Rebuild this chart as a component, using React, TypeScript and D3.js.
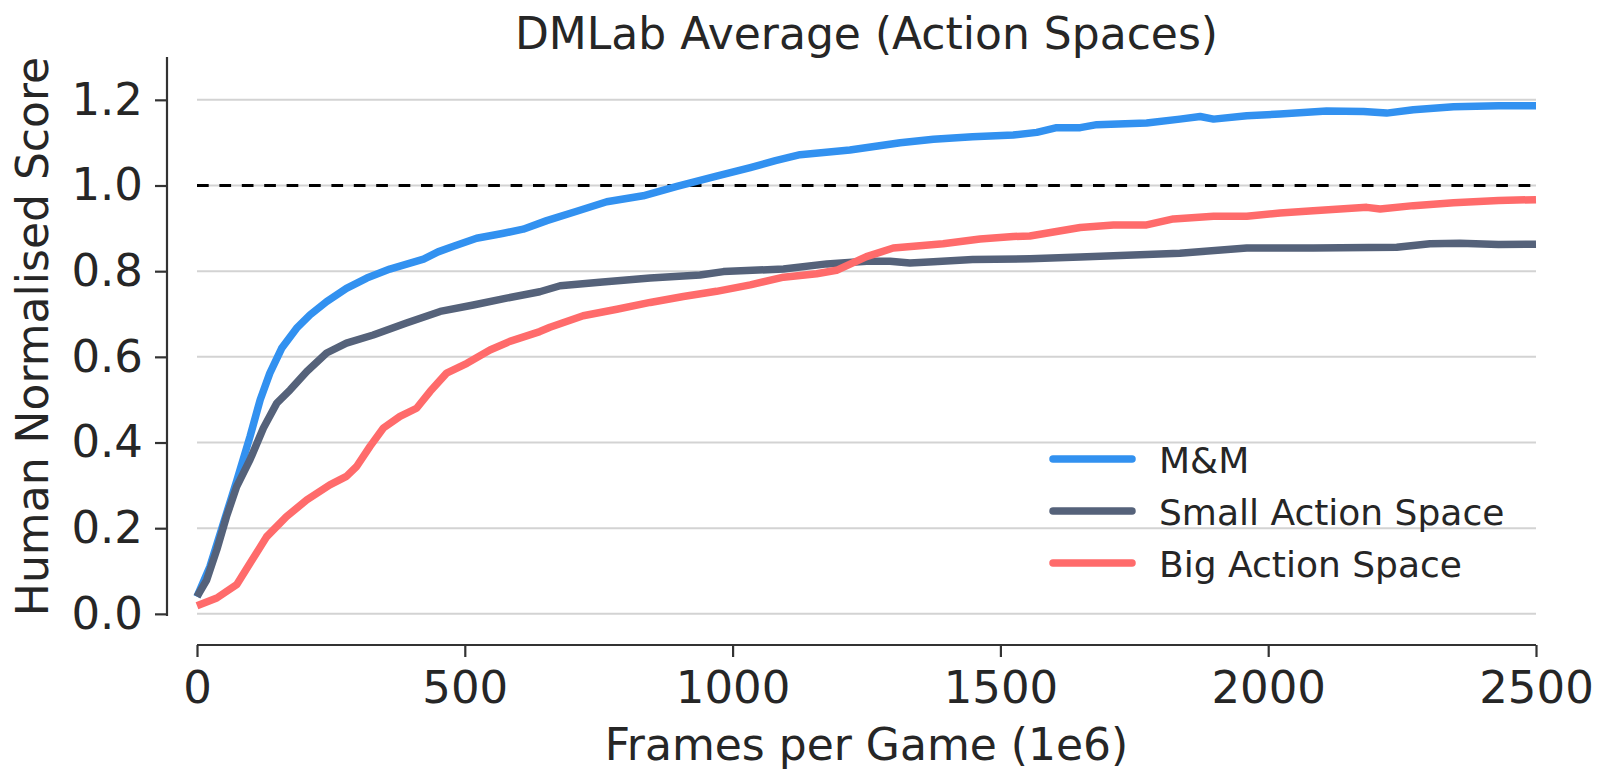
import React, { useEffect, useRef } from 'react';
import * as d3 from 'd3';

// values (frames in 1e6, human normalised score)
const mmFrames = [0, 24, 49, 74, 99, 118, 136, 158, 186, 211, 242, 279, 317, 360, 423, 450, 479, 522, 570, 609, 653, 709, 765, 833, 896, 970, 1033, 1080, 1126, 1219, 1313, 1375, 1448, 1524, 1568, 1605, 1649, 1680, 1773, 1835, 1873, 1898, 1960, 2022, 2109, 2178, 2221, 2271, 2346, 2430, 2500];
const mmScores = [0.04, 0.11, 0.21, 0.31, 0.414, 0.5, 0.562, 0.62, 0.667, 0.698, 0.729, 0.76, 0.784, 0.805, 0.828, 0.845, 0.858, 0.877, 0.888, 0.898, 0.918, 0.94, 0.962, 0.976, 0.998, 1.022, 1.042, 1.058, 1.072, 1.083, 1.1, 1.108, 1.114, 1.118, 1.124, 1.135, 1.135, 1.142, 1.146, 1.155, 1.161, 1.155, 1.163, 1.167, 1.174, 1.173, 1.169, 1.177, 1.184, 1.186, 1.186];

const smallFrames = [0, 18, 37, 55, 74, 99, 124, 149, 174, 205, 242, 279, 329, 391, 454, 516, 578, 640, 678, 752, 846, 939, 983, 1095, 1176, 1250, 1294, 1331, 1375, 1448, 1555, 1649, 1711, 1835, 1960, 2084, 2240, 2302, 2358, 2430, 2500];
const smallScores = [0.04, 0.079, 0.15, 0.227, 0.297, 0.36, 0.434, 0.492, 0.523, 0.566, 0.609, 0.632, 0.651, 0.679, 0.706, 0.721, 0.737, 0.752, 0.766, 0.774, 0.784, 0.791, 0.799, 0.805, 0.817, 0.823, 0.823, 0.819, 0.822, 0.827, 0.829, 0.833, 0.836, 0.842, 0.854, 0.854, 0.856, 0.864, 0.865, 0.862, 0.863];

const bigFrames = [0, 37, 74, 99, 130, 167, 205, 248, 279, 298, 323, 348, 379, 410, 435, 466, 504, 547, 584, 640, 659, 721, 784, 846, 908, 970, 1033, 1095, 1157, 1194, 1250, 1300, 1344, 1393, 1462, 1524, 1555, 1649, 1711, 1773, 1823, 1898, 1960, 2022, 2084, 2184, 2209, 2271, 2346, 2430, 2500];
const bigScores = [0.019, 0.037, 0.068, 0.118, 0.18, 0.227, 0.266, 0.301, 0.321, 0.344, 0.391, 0.434, 0.461, 0.48, 0.519, 0.562, 0.585, 0.616, 0.636, 0.659, 0.669, 0.696, 0.711, 0.727, 0.741, 0.753, 0.768, 0.786, 0.794, 0.802, 0.834, 0.854, 0.859, 0.864, 0.875, 0.881, 0.882, 0.902, 0.908, 0.908, 0.922, 0.928, 0.928, 0.936, 0.941, 0.949, 0.945, 0.953, 0.96, 0.965, 0.967];

const seriesNames = ['M&M', 'Small Action Space', 'Big Action Space'];
const seriesColors = ['#3291f0', '#55627a', '#ff6b6b'];
const xTicks = [0, 500, 1000, 1500, 2000, 2500];
const yTicks = [0.0, 0.2, 0.4, 0.6, 0.8, 1.0, 1.2];
const humanLevel = 1.0;

const W = 1611;
const H = 783;
const FONT = 'DejaVu Sans, sans-serif';
const TEXT = '#262626';
const AXIS = '#333333';

export default function App() {
  const ref = useRef<SVGSVGElement>(null);

  useEffect(() => {
    if (!ref.current) return;
    const svg = d3.select(ref.current);
    svg.selectAll('*').remove();

    const left = 197, right = 1536, top = 57, bottom = 616;
    const x = d3.scaleLinear().domain([0, 2500]).range([left, right]);
    const y = d3.scaleLinear().domain([-0.005, 1.3]).range([bottom, top]);

    // grid
    svg.append('g')
      .selectAll('line')
      .data(yTicks)
      .enter().append('line')
      .attr('x1', left).attr('x2', right)
      .attr('y1', d => y(d)).attr('y2', d => y(d))
      .attr('stroke', '#d3d3d3')
      .attr('stroke-width', 2);

    // human level
    svg.append('line')
      .attr('x1', x(0)).attr('x2', x(2500))
      .attr('y1', y(humanLevel)).attr('y2', y(humanLevel))
      .attr('stroke', '#000')
      .attr('stroke-width', 3)
      .attr('stroke-dasharray', '11.7 10.7');

    // y axis (offset spine)
    const yAxis = svg.append('g')
      .attr('transform', `translate(${left - 30},0)`)
      .call(d3.axisLeft(y).tickValues(yTicks).tickFormat(d3.format('.1f')).tickSize(12).tickPadding(12));
    yAxis.select('.domain').attr('d', `M0,${top}V${bottom}`);

    // x axis (offset spine)
    const xAxis = svg.append('g')
      .attr('transform', `translate(0,${bottom + 29})`)
      .call(d3.axisBottom(x).tickValues(xTicks).tickFormat(d3.format('d')).tickSize(12).tickPadding(14));
    xAxis.select('.domain').attr('d', `M${left},0H${right}`);

    [yAxis, xAxis].forEach(a => {
      a.select('.domain').attr('stroke', AXIS).attr('stroke-width', 2.2);
      a.selectAll('.tick line').attr('stroke', AXIS).attr('stroke-width', 2.2);
      a.selectAll('.tick text')
        .attr('fill', TEXT)
        .attr('font-family', FONT)
        .attr('font-size', 45);
    });

    // series
    const series = [
      { frames: mmFrames, scores: mmScores },
      { frames: smallFrames, scores: smallScores },
      { frames: bigFrames, scores: bigScores },
    ];
    const line = d3.line<[number, number]>()
      .x(d => x(d[0]))
      .y(d => y(d[1]));
    series.forEach((s, i) => {
      const pts = s.frames.map((f, j) => [f, s.scores[j]] as [number, number]);
      svg.append('path')
        .attr('d', line(pts))
        .attr('fill', 'none')
        .attr('stroke', seriesColors[i])
        .attr('stroke-width', 7.5)
        .attr('stroke-linejoin', 'round');
    });

    // legend
    const lg = svg.append('g');
    seriesNames.forEach((name, i) => {
      const ly = 459 + i * 52;
      lg.append('line')
        .attr('x1', 1053).attr('x2', 1132)
        .attr('y1', ly).attr('y2', ly)
        .attr('stroke', seriesColors[i])
        .attr('stroke-width', 7.5)
        .attr('stroke-linecap', 'round');
      lg.append('text')
        .attr('x', 1159).attr('y', ly + 13.5)
        .attr('fill', TEXT)
        .attr('font-family', FONT)
        .attr('font-size', 36)
        .text(name);
    });

    // title and axis labels
    svg.append('text')
      .attr('x', (left + right) / 2).attr('y', 49)
      .attr('text-anchor', 'middle')
      .attr('fill', TEXT)
      .attr('font-family', FONT)
      .attr('font-size', 44)
      .text('DMLab Average (Action Spaces)');

    svg.append('text')
      .attr('x', (left + right) / 2).attr('y', 760)
      .attr('text-anchor', 'middle')
      .attr('fill', TEXT)
      .attr('font-family', FONT)
      .attr('font-size', 44)
      .text('Frames per Game (1e6)');

    svg.append('text')
      .attr('transform', `translate(48,${(top + bottom) / 2}) rotate(-90)`)
      .attr('text-anchor', 'middle')
      .attr('fill', TEXT)
      .attr('font-family', FONT)
      .attr('font-size', 44)
      .text('Human Normalised Score');
  }, []);

  return (
    <svg
      ref={ref}
      width={W}
      height={H}
      style={{ position: 'absolute', left: 0, top: 0, background: '#fff' }}
    />
  );
}
